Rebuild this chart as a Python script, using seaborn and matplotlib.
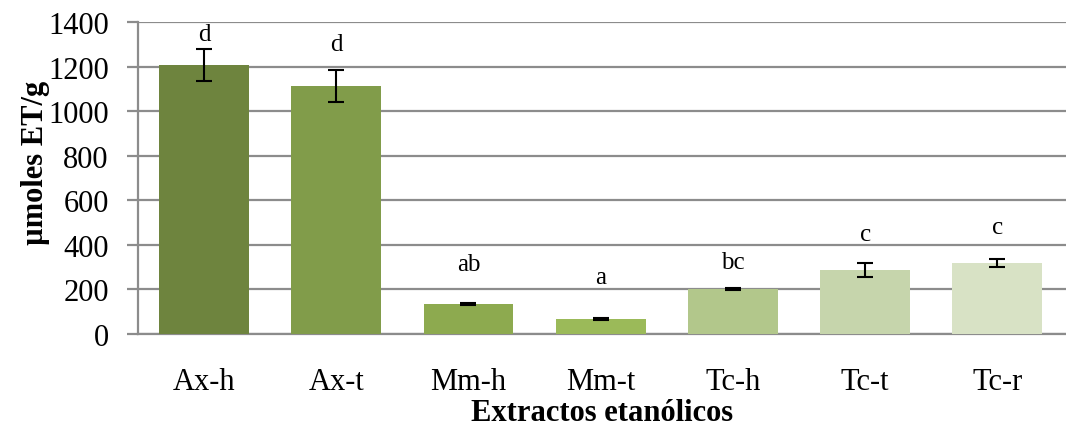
import matplotlib
matplotlib.use("Agg")
import matplotlib.pyplot as plt
import seaborn as sns
import pandas as pd

categories = ["Ax-h", "Ax-t", "Mm-h", "Mm-t", "Tc-h", "Tc-t", "Tc-r"]
values = [1207, 1113, 135, 67, 202, 287, 318]
errors = [70, 72, 4, 4, 6, 33, 17]
letters = ["d", "d", "ab", "a", "bc", "c", "c"]
letter_y = [1346, 1301, 314, 256, 323, 449, 480]
colors = ["#6E843E", "#819C4A", "#8DAA4F", "#9BBA59", "#B2C78B", "#C6D5AC", "#D8E2C5"]
yticks = [0, 200, 400, 600, 800, 1000, 1200, 1400]

sns.set_style("white")
plt.rcParams["font.family"] = ["Liberation Serif", "DejaVu Serif"]
plt.rcParams["text.color"] = "black"
plt.rcParams["axes.labelcolor"] = "black"
plt.rcParams["xtick.color"] = "black"
plt.rcParams["ytick.color"] = "black"

df = pd.DataFrame({"cat": categories, "val": values})
fig = plt.figure(figsize=(10.66, 4.31), dpi=100)
ax = fig.add_axes([138/1066, 1-335/431, 1-138/1066, (335-23)/431])

sns.barplot(data=df, x="cat", y="val", hue="cat", palette=colors, legend=False,
            width=0.68, ax=ax, saturation=1, zorder=3, linewidth=0)
ax.errorbar(range(len(categories)), values, yerr=errors, fmt="none",
            ecolor="black", elinewidth=1.5, capsize=5.5, capthick=1.5, zorder=4)
for i, (t, y) in enumerate(zip(letters, letter_y)):
    ax.text(i, y, t, ha="center", va="center", fontsize=18, color="black", zorder=5)

ax.set_ylim(0, 1400)
ax.set_xlim(-0.5, 6.52)
ax.set_yticks(yticks)
ax.yaxis.grid(True, color="#8c8c8c", linewidth=1.6, zorder=0)
ax.set_axisbelow(True)
for s in ["top", "right"]:
    ax.spines[s].set_visible(False)
ax.spines["left"].set_color("#8c8c8c")
ax.spines["left"].set_linewidth(1.6)
ax.spines["bottom"].set_color("#8c8c8c")
ax.spines["bottom"].set_linewidth(1.6)
ax.tick_params(axis="y", which="both", left=True, length=8, width=1.6, color="#8c8c8c",
               labelcolor="black", labelsize=22, pad=13)
ax.tick_params(axis="x", bottom=False, labelsize=22, labelcolor="black", pad=20)
ax.set_xlabel("Extractos etanólicos", fontsize=22, fontweight="bold", labelpad=2)
ax.set_ylabel("µmoles ET/g", fontsize=22, fontweight="bold")
ax.yaxis.set_label_coords(-88/928, 0.551)

fig.savefig("out.png", dpi=100)
